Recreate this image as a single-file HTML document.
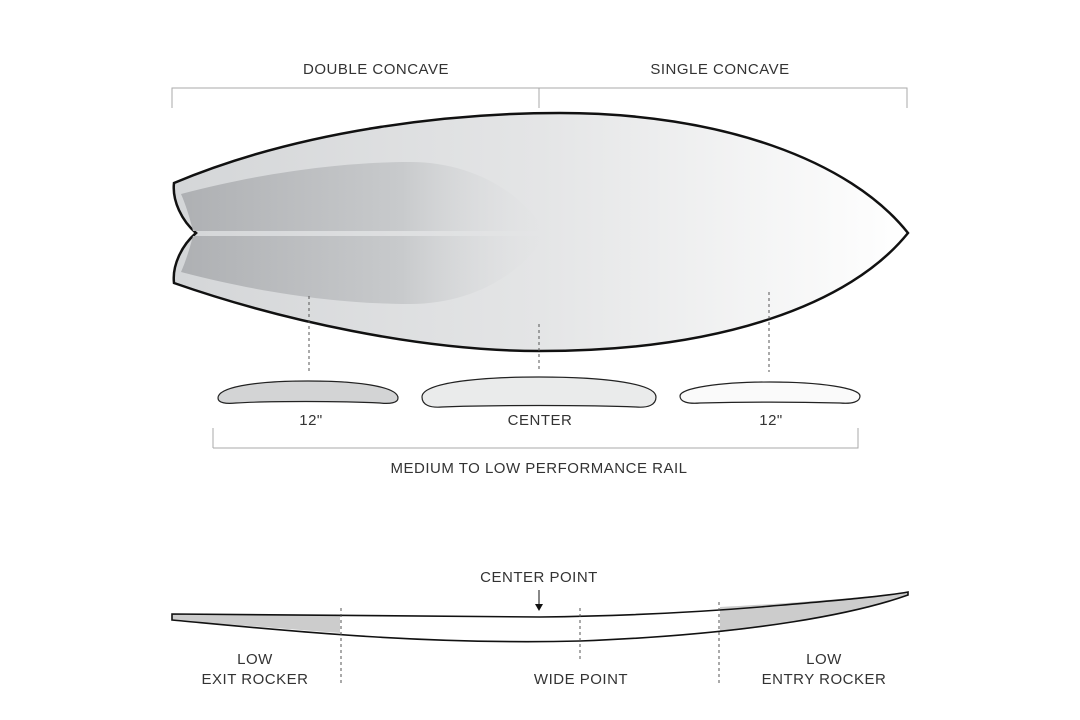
<!DOCTYPE html>
<html><head><meta charset="utf-8"><style>
html,body{margin:0;padding:0;background:#fff}
svg{display:block}
text{font-family:"Liberation Sans",sans-serif;font-size:15px;fill:#333;letter-spacing:0.5px}
</style></head><body>
<svg width="1080" height="720" viewBox="0 0 1080 720" xmlns="http://www.w3.org/2000/svg">
<defs>
<linearGradient id="bg" x1="0" x2="1" y1="0" y2="0">
<stop offset="0" stop-color="#d4d6d8"/><stop offset="0.5" stop-color="#e4e5e6"/><stop offset="1" stop-color="#ffffff"/></linearGradient>
<linearGradient id="cc" x1="180" x2="550" y1="0" y2="0" gradientUnits="userSpaceOnUse">
<stop offset="0" stop-color="#aeb0b3"/><stop offset="0.6" stop-color="#c8cacc"/><stop offset="1" stop-color="#e2e3e4" stop-opacity="0"/></linearGradient>
</defs>
<g stroke="#aaa" fill="none" stroke-width="1">
<path d="M172,108 V88 H907 V108"/><path d="M539,88 V108"/>
<path d="M213,448 V428 M213,448 H858 V428"/>
</g>
<text x="376" y="74" text-anchor="middle">DOUBLE CONCAVE</text>
<text x="720" y="74" text-anchor="middle">SINGLE CONCAVE</text>
<path d="M174,183 C300,130 450,113 560,113 C720,113 850,160 908,233 C850,305 720,351 540,351 C420,351 280,320 174,283 C172,265 182,245 196,233 C182,221 172,201 174,183 Z" fill="url(#bg)" stroke="#111" stroke-width="2.5"/>
<path d="M181,194 C280,168 360,162 410,162 C470,162 520,190 545,231 L193,231 C189,215 185,203 181,194 Z" fill="url(#cc)"/>
<path d="M181,272 C280,298 360,304 410,304 C470,304 520,276 545,236 L193,236 C189,251 185,263 181,272 Z" fill="url(#cc)"/>
<g stroke="#555" stroke-dasharray="3,3" stroke-width="1">
<path d="M309,296 V372"/><path d="M539,324 V372"/><path d="M769,292 V372"/>
</g>
<path d="M218,398 C218,388 250,381 308,381 C366,381 398,388 398,398 C398,403 390,404 380,403 C340,401 270,401 236,403 C226,404 218,403 218,398 Z" fill="#d3d4d5" stroke="#222" stroke-width="1.2"/>
<path d="M422,397 C422,384 470,377 539,377 C608,377 656,384 656,397 C656,405 648,408 636,407 C590,405 488,405 442,407 C430,408 422,405 422,397 Z" fill="#eaebeb" stroke="#222" stroke-width="1.2"/>
<path d="M680,396 C680,388 720,382 770,382 C820,382 860,388 860,396 C860,402 852,404 840,403 C800,402 740,402 700,403 C688,404 680,402 680,396 Z" fill="#fafafa" stroke="#222" stroke-width="1.2"/>
<text x="311" y="425" text-anchor="middle">12"</text>
<text x="540" y="425" text-anchor="middle">CENTER</text>
<text x="771" y="425" text-anchor="middle">12"</text>
<text x="539" y="473" text-anchor="middle">MEDIUM TO LOW PERFORMANCE RAIL</text>
<text x="539" y="582" text-anchor="middle">CENTER POINT</text>
<path d="M539,590 V606" stroke="#111"/><path d="M535,604 L539,611 L543,604 Z" fill="#111"/>
<path d="M172,620 C250,626 300,630 340,633 V616 L172,614 Z" fill="#ccc"/>
<path d="M720,632 C800,624 860,610 908,595 L908,592 C860,598 780,604 720,607 Z" fill="#ccc"/>
<path d="M172,614 L540,617 C620,616 700,612 760,607 C830,601 880,597 908,592 L908,595 C860,612 760,634 580,641 C420,645 280,630 172,620 Z" fill="none" stroke="#111" stroke-width="1.6"/>
<g stroke="#555" stroke-dasharray="3,3" stroke-width="1">
<path d="M341,608 V685"/><path d="M580,608 V660"/><path d="M719,602 V685"/>
</g>
<text x="255" y="664" text-anchor="middle">LOW</text>
<text x="255" y="684" text-anchor="middle">EXIT ROCKER</text>
<text x="581" y="684" text-anchor="middle">WIDE POINT</text>
<text x="824" y="664" text-anchor="middle">LOW</text>
<text x="824" y="684" text-anchor="middle">ENTRY ROCKER</text>
</svg>
</body></html>
